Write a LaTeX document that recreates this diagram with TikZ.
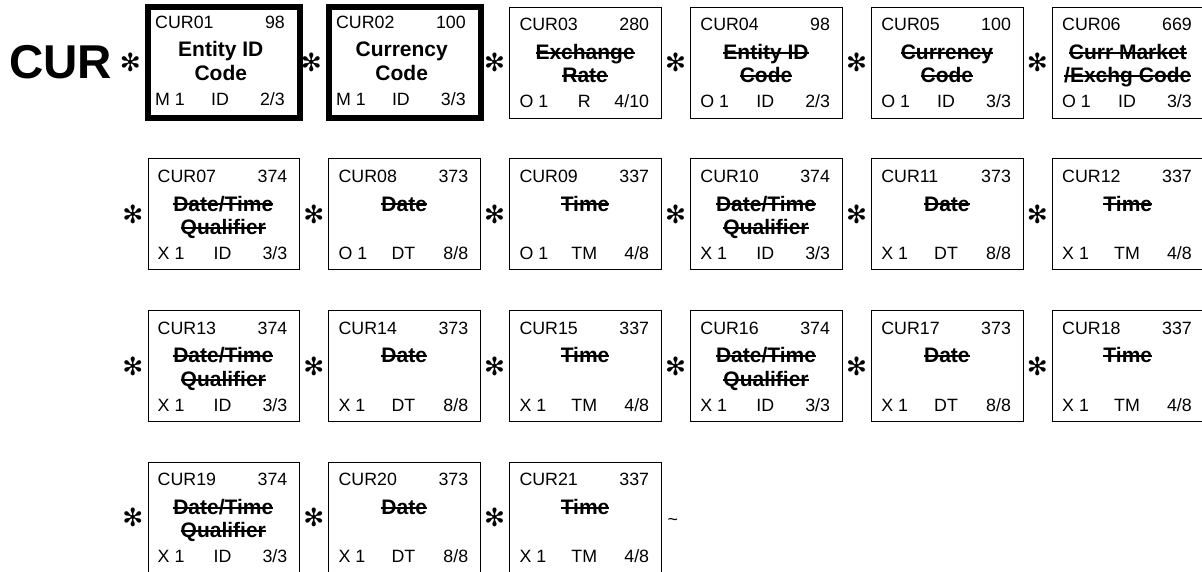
\documentclass[tikz,border=0pt]{standalone}
\usepackage{fontspec}
\setmainfont{Liberation Sans}
\newfontfamily\dingfont{DejaVu Sans}
\newsavebox{\strikebox}
\newcommand{\plaintitle}[1]{#1}
\newcommand{\striketitle}[1]{\ifx\relax#1\relax\else
  \sbox{\strikebox}{#1}\rlap{\rule[0.27em]{\wd\strikebox}{2pt}}\usebox{\strikebox}\fi}
\let\tfmt\striketitle
\tikzset{
  seg/.style={draw=black,line width=1pt,minimum width=151.6pt,
              minimum height=111pt,inner sep=0pt},
  reqseg/.style={seg,line width=6pt},
  segnow/.style={seg},
  lbl/.style={inner sep=0pt,font=\fontsize{17.8}{20}\selectfont},
  ttl/.style={inner sep=0pt,font=\fontsize{21}{24}\selectfont\bfseries},
  rep/.style={inner sep=0pt,font=\dingfont\fontsize{25}{25}\selectfont},
}
% #1 col, #2 row, #3 id, #4 number, #5/#6 title lines, #7 req, #8 type, #9 length
\newcommand{\segbox}[9]{%
  \node[segnow] (#3) at ({223.8+(#1-1)*180.9},{62.5+(#2-1)*151.7}) {};
  \node[rep] (#3rep) at ([xshift=-14.6pt]#3.west) {✻};
  \node[lbl,anchor=base west] (#3id) at ([shift={(10,24.3)}]#3.north west) {#3};
  \node[lbl,anchor=base east] (#3num) at ([shift={(140,24.3)}]#3.north west) {#4};
  \node[ttl,anchor=base] (#3ta) at ([shift={(75.8,52.8)}]#3.north west) {\tfmt{#5}};
  \node[ttl,anchor=base] (#3tb) at ([shift={(75.8,76.3)}]#3.north west) {\tfmt{#6}};
  \node[lbl,anchor=base west] (#3req) at ([shift={(10,101.3)}]#3.north west) {#7};
  \node[lbl,anchor=base] (#3typ) at ([shift={(75,101.3)}]#3.north west) {#8};
  \node[lbl,anchor=base east] (#3len) at ([shift={(140,101.3)}]#3.north west) {#9};
}

\begin{document}
\begin{tikzpicture}[x=1pt,y=-1pt]
  \useasboundingbox (0,0) rectangle (1202,571);
  \node[inner sep=0pt,anchor=west,font=\fontsize{47.5}{47.5}\selectfont\bfseries] (seg) at (9,62.5) {CUR};

  % mandatory elements
  \tikzset{segnow/.style={reqseg}}
  \let\tfmt\plaintitle
  \segbox{1}{1}{CUR01}{98}{Entity ID}{Code}{M 1}{ID}{2/3}
  \segbox{2}{1}{CUR02}{100}{Currency}{Code}{M 1}{ID}{3/3}

  % unused elements
  \tikzset{segnow/.style={seg}}
  \let\tfmt\striketitle
  \segbox{3}{1}{CUR03}{280}{Exchange}{Rate}{O 1}{R}{4/10}
  \segbox{4}{1}{CUR04}{98}{Entity ID}{Code}{O 1}{ID}{2/3}
  \segbox{5}{1}{CUR05}{100}{Currency}{Code}{O 1}{ID}{3/3}
  \segbox{6}{1}{CUR06}{669}{Curr Market}{/Exchg Code}{O 1}{ID}{3/3}

  \segbox{1}{2}{CUR07}{374}{Date/Time}{Qualifier}{X 1}{ID}{3/3}
  \segbox{2}{2}{CUR08}{373}{Date}{}{O 1}{DT}{8/8}
  \segbox{3}{2}{CUR09}{337}{Time}{}{O 1}{TM}{4/8}
  \segbox{4}{2}{CUR10}{374}{Date/Time}{Qualifier}{X 1}{ID}{3/3}
  \segbox{5}{2}{CUR11}{373}{Date}{}{X 1}{DT}{8/8}
  \segbox{6}{2}{CUR12}{337}{Time}{}{X 1}{TM}{4/8}

  \segbox{1}{3}{CUR13}{374}{Date/Time}{Qualifier}{X 1}{ID}{3/3}
  \segbox{2}{3}{CUR14}{373}{Date}{}{X 1}{DT}{8/8}
  \segbox{3}{3}{CUR15}{337}{Time}{}{X 1}{TM}{4/8}
  \segbox{4}{3}{CUR16}{374}{Date/Time}{Qualifier}{X 1}{ID}{3/3}
  \segbox{5}{3}{CUR17}{373}{Date}{}{X 1}{DT}{8/8}
  \segbox{6}{3}{CUR18}{337}{Time}{}{X 1}{TM}{4/8}

  \segbox{1}{4}{CUR19}{374}{Date/Time}{Qualifier}{X 1}{ID}{3/3}
  \segbox{2}{4}{CUR20}{373}{Date}{}{X 1}{DT}{8/8}
  \segbox{3}{4}{CUR21}{337}{Time}{}{X 1}{TM}{4/8}

  \node[lbl] (term) at ([xshift=11pt,yshift=-4pt]CUR21.east) {\textasciitilde};
\end{tikzpicture}
\end{document}
